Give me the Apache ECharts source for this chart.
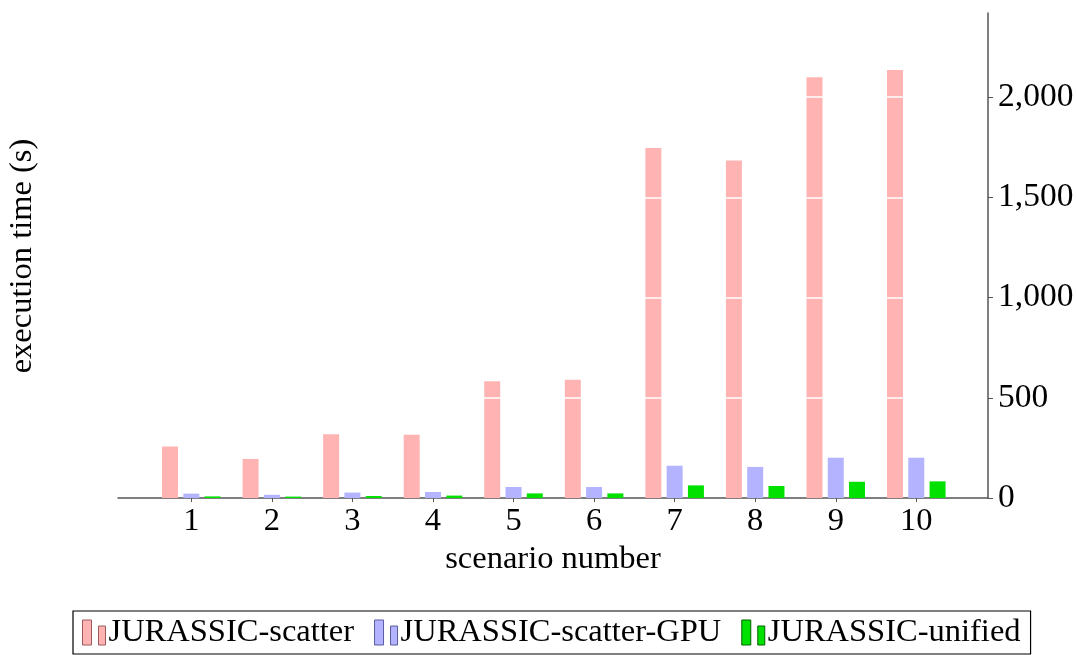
<!DOCTYPE html>
<html>
<head>
<meta charset="utf-8">
<script src="https://cdn.jsdelivr.net/npm/echarts@6/dist/echarts.min.js"></script>
<style>
html,body{margin:0;padding:0;background:#fff;}
#chart{width:1077px;height:655px;}
</style>
</head>
<body>
<div id="chart"></div>
<script>
const scenarios = [1, 2, 3, 4, 5, 6, 7, 8, 9, 10];
const scatterCPU = [257, 195, 318, 315, 583, 590, 1746, 1684, 2100, 2136];
const scatterGPU = [22, 16, 27, 30, 55, 55, 161, 155, 201, 201];
const unified = [8, 7, 10, 12, 23, 23, 63, 60, 81, 83];
const yTicks = [0, 500, 1000, 1500, 2000];
const seriesNames = ['JURASSIC-scatter', 'JURASSIC-scatter-GPU', 'JURASSIC-unified'];

const FONT = '"Liberation Serif", "DejaVu Serif", serif';
const FS = 32.5;
const colors = ['#ffb3b3', '#b3b3ff', '#00e100'];
const legendBorders = ['#a05a5a', '#5a5aa0', '#006000'];
const iconPath = 'path://M0,0h9v25h-9z M16,6h7v19h-7z';

const chart = echarts.init(document.getElementById('chart'), null, {renderer: 'canvas'});

function mk(name, vals, idx, extra) {
  return Object.assign({
    name: name,
    type: 'bar',
    barWidth: 16,
    barGap: '33%',
    itemStyle: {color: colors[idx]},
    data: scenarios.map((s, i) => [s, vals[i]])
  }, extra || {});
}

const option = {
  animation: false,
  backgroundColor: '#fff',
  textStyle: {fontFamily: FONT, color: '#000'},
  grid: {left: 118, right: 89, top: 13, bottom: 157},
  xAxis: {
    type: 'value',
    min: 0.09,
    max: 10.89,
    name: 'scenario number',
    nameLocation: 'middle',
    nameGap: 45,
    nameTextStyle: {fontFamily: FONT, fontSize: FS, color: '#000'},
    axisLine: {lineStyle: {color: '#555', width: 1.5}},
    axisTick: {show: true, customValues: scenarios, length: 4, lineStyle: {color: '#555'}},
    axisLabel: {customValues: scenarios, fontFamily: FONT, fontSize: FS, color: '#000', margin: 7},
    splitLine: {show: false}
  },
  yAxis: {
    type: 'value',
    position: 'right',
    min: 0,
    max: 2420,
    z: 5,
    axisLine: {show: true, onZero: false, lineStyle: {color: '#555', width: 1.5}},
    axisTick: {show: true, customValues: yTicks, length: 5, lineStyle: {color: '#555'}},
    axisLabel: {
      customValues: yTicks,
      fontFamily: FONT, fontSize: FS + 1, color: '#000', margin: 10,
      formatter: v => Number(v).toLocaleString('en-US')
    },
    splitLine: {show: false}
  },
  graphic: [{
    type: 'text',
    x: 22, y: 256,
    rotation: Math.PI / 2,
    style: {
      text: 'execution time (s)',
      font: FS + 'px ' + FONT,
      fill: '#000',
      textAlign: 'center',
      textVerticalAlign: 'middle'
    }
  }],
  legend: {
    left: 73,
    top: 611,
    orient: 'horizontal',
    padding: [5, 10, 5, 9],
    itemWidth: 23,
    itemHeight: 25,
    itemGap: 20,
    borderColor: '#000',
    borderWidth: 1.2,
    borderRadius: 0,
    textStyle: {fontFamily: FONT, fontSize: FS, color: '#000', padding: [0, 0, 0, -2]},
    data: seriesNames.map((n, i) => ({
      name: n,
      icon: iconPath,
      itemStyle: {color: colors[i], borderColor: legendBorders[i], borderWidth: 1}
    }))
  },
  series: [
    mk(seriesNames[0], scatterCPU, 0),
    mk(seriesNames[1], scatterGPU, 1),
    mk(seriesNames[2], unified, 2, {
      markLine: {
        silent: true,
        symbol: 'none',
        label: {show: false},
        lineStyle: {color: '#ffffff', width: 1.6, type: 'solid'},
        data: yTicks.filter(v => v > 0).map(v => ({yAxis: v}))
      }
    })
  ]
};
chart.setOption(option);
</script>
</body>
</html>
